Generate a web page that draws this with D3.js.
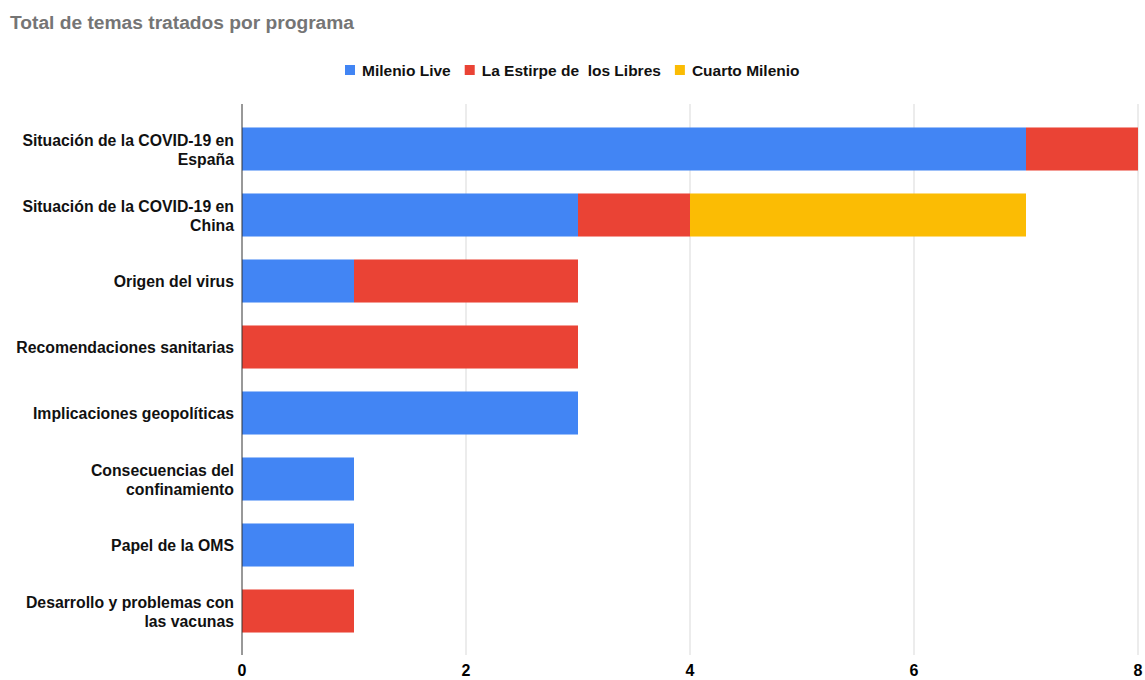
<!DOCTYPE html>
<html><head><meta charset="utf-8">
<script src="https://cdn.jsdelivr.net/npm/d3@7"></script>
<style>body{margin:0;background:#fff}svg{font-family:"Liberation Sans",Arial,sans-serif}</style>
</head><body>
<svg id="c" width="1145" height="680"></svg>
<script>
const categories = [
  "Situación de la COVID-19 en\nEspaña",
  "Situación de la COVID-19 en\nChina",
  "Origen del virus",
  "Recomendaciones sanitarias",
  "Implicaciones geopolíticas",
  "Consecuencias del\nconfinamiento",
  "Papel de la OMS",
  "Desarrollo y problemas con\nlas vacunas"
];
const seriesNames = ["Milenio Live", "La Estirpe de  los Libres", "Cuarto Milenio"];
const milenioLive = [7, 3, 1, 0, 3, 1, 1, 0];
const laEstirpe   = [1, 1, 2, 3, 0, 0, 0, 1];
const cuartoMilenio = [0, 3, 0, 0, 0, 0, 0, 0];
const xTicks = [0, 2, 4, 6, 8];
const colors = ["#4285F4", "#EA4335", "#FBBC04"];

const svg = d3.select("#c");
const x = d3.scaleLinear().domain([0, 8]).range([242, 1138]);
const y = d3.scaleBand().domain(categories).range([116, 644]).paddingInner(0.348).paddingOuter(0.174);

const rows = categories.map((c, i) => ({cat: c, "Milenio Live": milenioLive[i], "La Estirpe de  los Libres": laEstirpe[i], "Cuarto Milenio": cuartoMilenio[i]}));
const stack = d3.stack().keys(seriesNames)(rows);

// title
svg.append("text").attr("x", 10).attr("y", 29).attr("fill", "#757575")
  .style("font-size", "19.2px").attr("font-weight", "bold").text("Total de temas tratados por programa");

// gridlines
svg.append("g").selectAll("line").data(xTicks.filter(t => t > 0)).join("line")
  .attr("x1", d => x(d)).attr("x2", d => x(d)).attr("y1", 104).attr("y2", 655)
  .attr("stroke", "#d9d9d9").attr("stroke-width", 1);

// bars
svg.append("g").selectAll("g").data(stack).join("g").attr("fill", (d, i) => colors[i])
  .selectAll("rect").data(d => d).join("rect")
  .attr("x", d => x(d[0])).attr("width", d => x(d[1]) - x(d[0]))
  .attr("y", d => y(d.data.cat)).attr("height", y.bandwidth());

// axis line at 0
svg.append("line").attr("x1", x(0)).attr("x2", x(0)).attr("y1", 104).attr("y2", 655)
  .attr("stroke", "#333").attr("stroke-width", 1);

// x tick labels
svg.append("g").selectAll("text").data(xTicks).join("text")
  .attr("x", d => x(d)).attr("y", 676).attr("text-anchor", "middle")
  .style("font-size", "16px").style("font-weight", "bold").attr("fill", "#000")
  .text(d3.format("d"));

// category labels
const cl = svg.append("g").selectAll("text").data(categories).join("text")
  .attr("text-anchor", "end").style("font-size", "15.8px").attr("font-weight", "bold").attr("fill", "#111");
cl.each(function(d) {
  const lines = d.split("\n");
  const cy = y(d) + y.bandwidth() / 2;
  const lh = 19;
  const t = d3.select(this);
  lines.forEach((ln, k) => {
    t.append("tspan").attr("x", 234).attr("y", cy + (k - (lines.length - 1) / 2) * lh + 6).text(ln);
  });
});

// legend
const lg = svg.append("g");
let lx = 345;
seriesNames.forEach((n, i) => {
  lg.append("rect").attr("x", lx).attr("y", 65).attr("width", 10).attr("height", 10).attr("fill", colors[i]);
  const t = lg.append("text").attr("x", lx + 17).attr("y", 76).style("font-size", "15.5px").attr("font-weight", "bold")
    .attr("fill", "#111").attr("xml:space", "preserve").style("white-space", "pre").text(n);
  lx += 17 + t.node().getComputedTextLength() + 14;
});
</script>
</body></html>
